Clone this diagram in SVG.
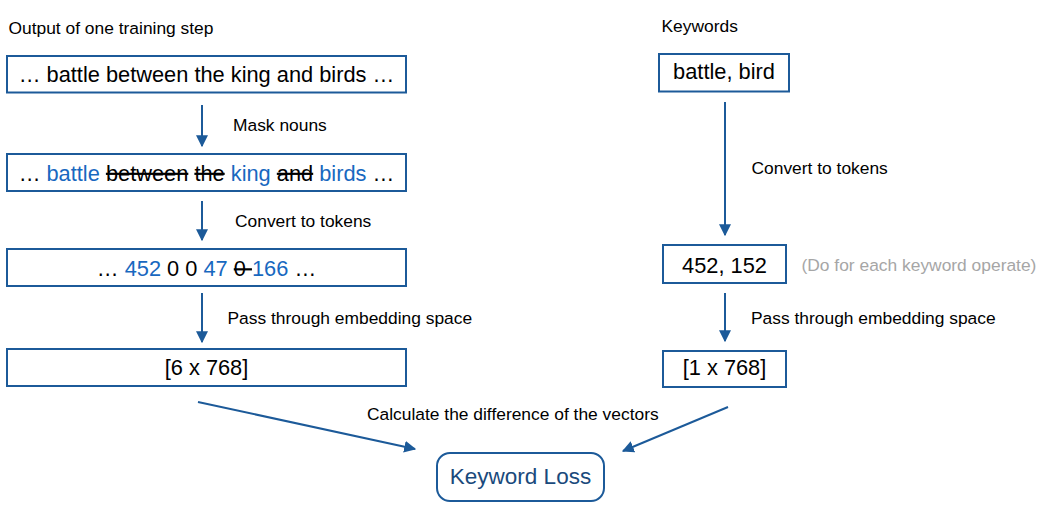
<svg xmlns="http://www.w3.org/2000/svg" width="1053" height="515" viewBox="0 0 1053 515">
<style>
text{font-family:"Liberation Sans",Arial,sans-serif;fill:#000}
.lbl{font-size:17.4px}
.box{fill:#fff;stroke:#1c5a99;stroke-width:2}
.bt{font-size:21.8px;text-anchor:middle}
.bl{fill:#1868bf}
.st{text-decoration:line-through}
.gray{fill:#a6a6a6}
.conn{stroke:#1c5a99;stroke-width:2;fill:none;marker-end:url(#ah)}
</style>
<defs>
<marker id="ah" viewBox="0 0 10 10" refX="9" refY="5" markerWidth="6" markerHeight="6" orient="auto" markerUnits="strokeWidth">
<path d="M0,0 L10,5 L0,10 Z" fill="#1c5a99"/>
</marker>
</defs>
<text class="lbl" x="8.5" y="34">Output of one training step</text>
<text class="lbl" x="661.5" y="32">Keywords</text>
<g id="n1"><rect class="box" x="7" y="56" width="399" height="36.5"/><text class="bt" x="206.5" y="81.5">… battle between the king and birds …</text></g>
<g id="n2"><rect class="box" x="7" y="154" width="399" height="37"/><text class="bt" x="206.5" y="180.5">… <tspan class="bl">battle</tspan> <tspan class="st">between</tspan> <tspan class="st">the</tspan> <tspan class="bl">king</tspan> <tspan class="st">and</tspan> <tspan class="bl">birds</tspan> …</text></g>
<g id="n3"><rect class="box" x="7" y="249" width="399" height="37"/><text class="bt" x="206.5" y="276">… <tspan class="bl">452</tspan> 0 0 <tspan class="bl">47</tspan> <tspan class="st">0 </tspan><tspan class="bl">166</tspan> …</text></g>
<g id="n4"><rect class="box" x="7" y="349" width="399" height="37"/><text class="bt" x="206.5" y="375">[6 x 768]</text></g>
<g id="r1"><rect class="box" x="659" y="54" width="130" height="37.5"/><text class="bt" x="724" y="79">battle, bird</text></g>
<g id="r2"><rect class="box" x="663" y="245" width="123" height="38"/><text class="bt" x="724.5" y="272.5">452, 152</text></g>
<g id="r3"><rect class="box" x="663" y="351" width="123" height="36"/><text class="bt" x="724.5" y="375">[1 x 768]</text></g>
<g id="loss"><rect x="437" y="453" width="167" height="48" rx="13" ry="13" fill="#fff" stroke="#1c5a99" stroke-width="2"/><text x="520.5" y="484" font-size="22.5" text-anchor="middle" style="fill:#1a4a7c">Keyword Loss</text></g>
<g id="connectors">
<line class="conn" x1="202" y1="105" x2="202" y2="146"/>
<line class="conn" x1="202" y1="201" x2="202" y2="240"/>
<line class="conn" x1="202" y1="293" x2="202" y2="342"/>
<line class="conn" x1="725" y1="102" x2="725" y2="235"/>
<line class="conn" x1="725" y1="293" x2="725" y2="341"/>
<line class="conn" x1="198" y1="402" x2="415" y2="449"/>
<line class="conn" x1="728" y1="407" x2="623" y2="451"/>
</g>
<text class="lbl" x="233" y="131">Mask nouns</text>
<text class="lbl" x="235" y="227">Convert to tokens</text>
<text class="lbl" x="227.5" y="323.5">Pass through embedding space</text>
<text class="lbl" x="751.5" y="174">Convert to tokens</text>
<text class="lbl gray" x="801.5" y="270.5">(Do for each keyword operate)</text>
<text class="lbl" x="751" y="323.5">Pass through embedding space</text>
<text class="lbl" x="367" y="420">Calculate the difference of the vectors</text>
</svg>
